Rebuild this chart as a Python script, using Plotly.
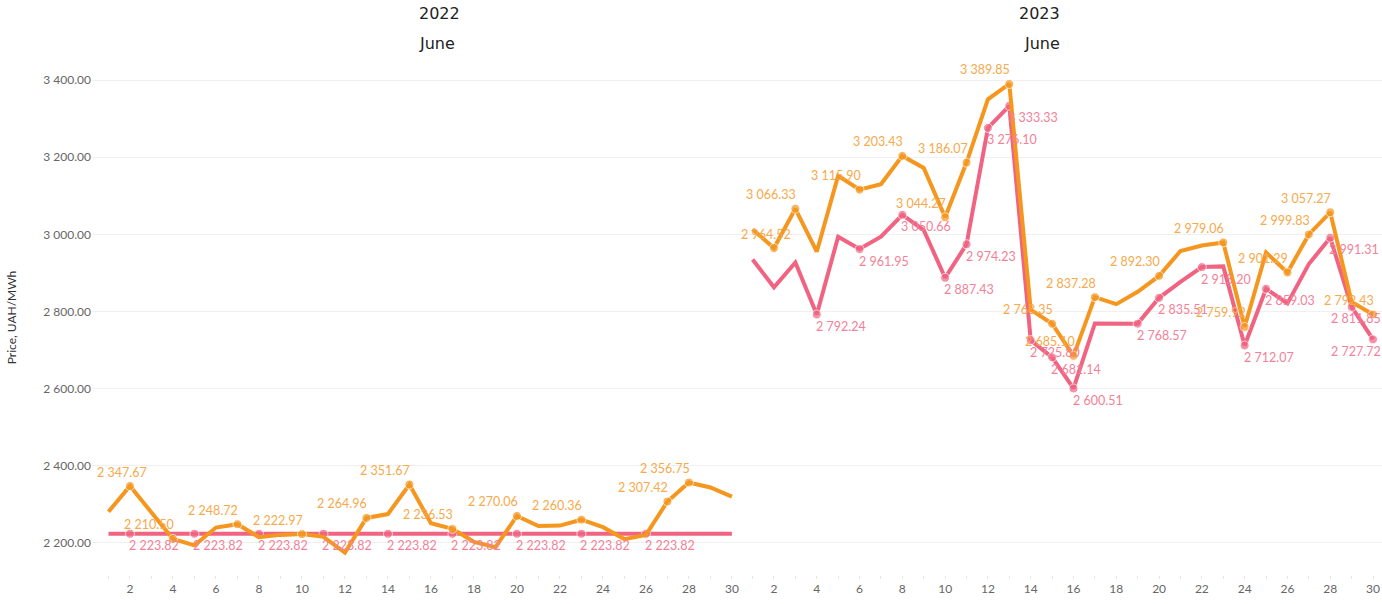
import plotly.graph_objects as go

days = list(range(1, 31))
tick_days = list(range(2, 31, 2))

orange_2022 = [2281, 2347.67, 2279, 2210.50, 2194, 2240, 2248.72, 2215, 2221, 2222.97,
               2216, 2175, 2264.96, 2275, 2351.67, 2251, 2236.53, 2203, 2189, 2270.06,
               2244, 2245, 2260.36, 2241, 2210, 2221, 2307.42, 2356.75, 2344, 2320]
orange_2022_labeled = [2, 4, 7, 10, 13, 15, 17, 20, 23, 27, 28]

pink_2022 = [2223.82] * 30
pink_2022_labeled = [2, 5, 8, 11, 14, 17, 20, 23, 26]

orange_2023 = [3013, 2964.52, 3066.33, 2955, 3152, 3115.90, 3130, 3203.43, 3172, 3044.27,
               3186.07, 3350, 3389.85, 2805, 2768.35, 2685.10, 2837.28, 2819, 2851, 2892.30,
               2957, 2971, 2979.06, 2759.92, 2953, 2901.29, 2999.83, 3057.27, 2825, 2792.43]
orange_2023_labeled = [2, 3, 6, 8, 10, 11, 13, 15, 16, 17, 20, 23, 24, 26, 27, 28, 30]

pink_2023 = [2935, 2863, 2927, 2792.24, 2994, 2961.95, 2994, 3050.66, 3011, 2887.43,
             2974.23, 3276.10, 3333.33, 2725.80, 2681.14, 2600.51, 2769, 2769, 2768.57, 2835.51,
             2877, 2915.20, 2917, 2712.07, 2859.03, 2821, 2923, 2991.31, 2811.85, 2727.72]
pink_2023_labeled = [4, 6, 8, 10, 11, 12, 13, 14, 15, 16, 19, 20, 22, 24, 25, 28, 29, 30]

y_ticks = [2200, 2400, 2600, 2800, 3000, 3200, 3400]
panel_titles = [("2022", "June"), ("2023", "June")]

ORANGE = "#F5961F"
ORANGE_TXT = "#F7A94B"
PINK = "#F06482"
PINK_TXT = "#F47F98"
FONT = "Lato"

W, H = 1382, 604
ML, MR, MT, MB = 92, 0, 60, 29


def fmt(v):
    return f"{v:,.2f}".replace(",", " ")


def series_trace(values, labeled, color, xaxis):
    sizes = [9 if d in labeled else 0 for d in days]
    return go.Scatter(
        x=days, y=values, xaxis=xaxis, yaxis="y",
        mode="lines+markers",
        line=dict(color=color, width=4),
        marker=dict(color=color, size=sizes),
        cliponaxis=False, showlegend=False, hoverinfo="x+y",
    )


fig = go.Figure()
fig.add_trace(series_trace(pink_2022, pink_2022_labeled, PINK, "x"))
fig.add_trace(series_trace(orange_2022, orange_2022_labeled, ORANGE, "x"))
fig.add_trace(series_trace(pink_2023, pink_2023_labeled, PINK, "x2"))
fig.add_trace(series_trace(orange_2023, orange_2023_labeled, ORANGE, "x2"))


def add_labels(values, labeled, color, xref, kind, overrides=None):
    overrides = overrides or {}
    for d, v in zip(days, values):
        if d not in labeled:
            continue
        if kind == "above":
            xanchor, xshift, yshift = "right", 2, 14
        else:
            xanchor, xshift, yshift = "left", -2, -12
        if d in overrides:
            xanchor, xshift = overrides[d]
        fig.add_annotation(
            x=d, y=v, xref=xref, yref="y", text=fmt(v), showarrow=False,
            xanchor=xanchor, yanchor="middle", xshift=xshift, yshift=yshift,
            font=dict(color=color, size=12.5, family=FONT), borderpad=0,
        )


add_labels(pink_2022, pink_2022_labeled, PINK_TXT, "x", "below")
add_labels(orange_2022, orange_2022_labeled, ORANGE_TXT, "x", "above", {2: ("center", -8)})
add_labels(pink_2023, pink_2023_labeled, PINK_TXT, "x2", "below", {29: ("center", 4), 30: ("right", 9)})
add_labels(orange_2023, orange_2023_labeled, ORANGE_TXT, "x2", "above", {2: ("center", -8)})

plot_w = W - ML - MR
split = 650 / plot_w
xcommon = dict(
    tickvals=tick_days, ticktext=[str(d) for d in tick_days],
    showgrid=False, zeroline=False, showline=False,
    ticks="outside", ticklen=3, tickcolor="#e6e6e6",
    minor=dict(dtick=1, ticks="outside", ticklen=3, tickcolor="#e6e6e6", showgrid=False),
    tickfont=dict(size=12, color="#666666", family=FONT),
    anchor="y", automargin=False,
)
fig.update_layout(
    width=W, height=H,
    margin=dict(l=ML, r=MR, t=MT, b=MB, autoexpand=False),
    plot_bgcolor="white", paper_bgcolor="white",
    separators=". ",
    xaxis=dict(domain=[0, split], range=[0.233, 30.47], **xcommon),
    xaxis2=dict(domain=[split, 1], range=[0.505, 30.42], **xcommon),
    yaxis=dict(
        range=[2117, 3452], tickvals=y_ticks, tickformat=",.2f",
        showgrid=True, gridcolor="#f0f0f0", gridwidth=1,
        zeroline=False, showline=False, automargin=False,
        tickfont=dict(size=12, color="#666666", family=FONT),
        title=dict(text="Price, UAH/MWh", font=dict(size=12, color="#333333", family=FONT), standoff=24),
        ticks="",
    ),
)

centers = [split / 2, split + (1 - split) / 2]
plot_h = H - MT - MB


def ypaper(py):
    return (H - MB - py) / plot_h


for (yr, mo), cx in zip(panel_titles, centers):
    fig.add_annotation(x=cx, y=ypaper(14), xref="paper", yref="paper", yanchor="middle",
                       text=yr, showarrow=False,
                       font=dict(size=16, color="#222222", family="DejaVu Sans"))
    fig.add_annotation(x=cx, y=ypaper(44), xref="paper", yref="paper", yanchor="middle",
                       text=mo, showarrow=False,
                       font=dict(size=16, color="#222222", family="DejaVu Sans"))

fig.write_html(
    "out.html",
    config={"displayModeBar": False},
    post_script="document.documentElement.style.margin='0';document.body.style.margin='0';document.body.style.overflow='hidden';",
)
